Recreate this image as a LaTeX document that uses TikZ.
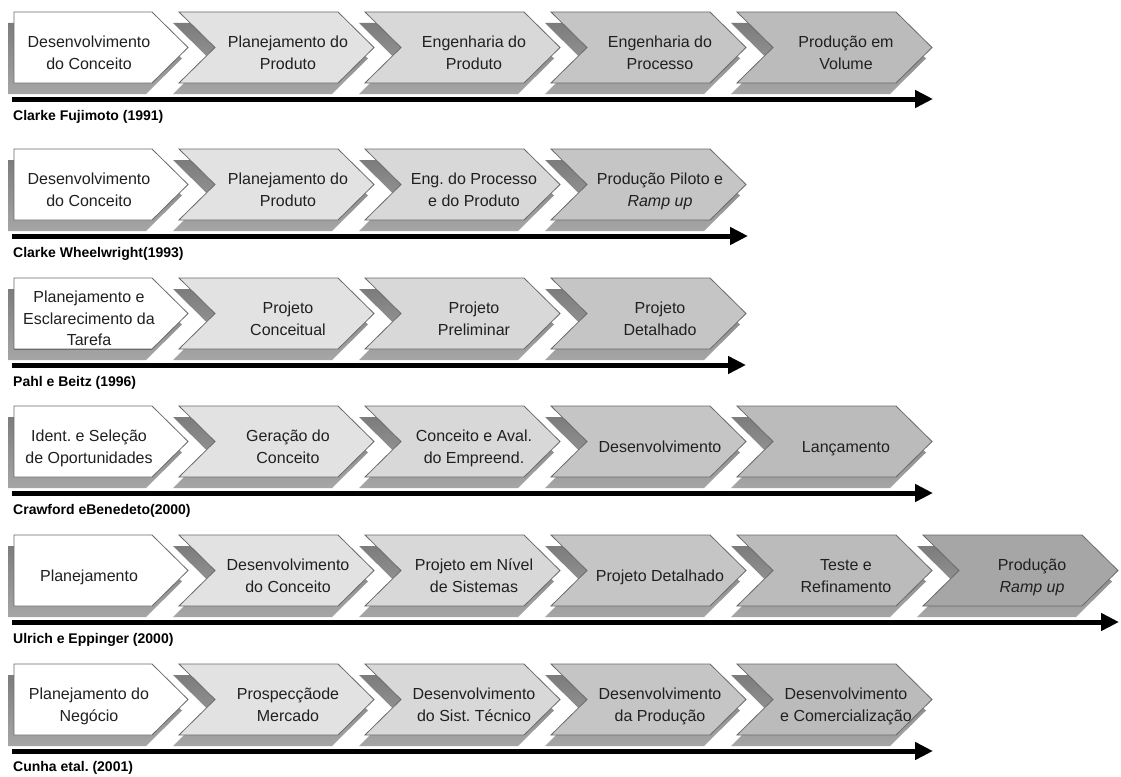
\documentclass[tikz,border=0pt]{standalone}
\usepackage{fontspec}
\setmainfont{Liberation Sans}
\frenchspacing
\usetikzlibrary{arrows.meta}
\definecolor{shtop}{HTML}{7C7C7C}
\definecolor{shbot}{HTML}{A6A6A6}
\definecolor{bdc}{HTML}{6A6A6A}
\definecolor{txtc}{HTML}{202020}
\definecolor{fa}{HTML}{FFFFFF}
\definecolor{fb}{HTML}{E2E2E2}
\definecolor{fc}{HTML}{D8D8D8}
\definecolor{fd}{HTML}{C5C5C5}
\definecolor{fe}{HTML}{BBBBBB}
\definecolor{ff}{HTML}{A6A6A6}
\newcommand{\brk}{\strut\\\strut}
\tikzset{
  txt/.style={font=\fontsize{16}{21.5}\selectfont, text=txtc, align=center, inner sep=0pt,
    execute at begin node=\strut, execute at end node=\strut},
  lbl/.style={font=\bfseries\fontsize{14}{16}\selectfont, anchor=west, inner sep=0pt, text=black},
  axis/.style={line width=5pt, -{Triangle[length=18pt,width=17pt]}},
  chevfill/.style={draw=bdc, line width=0.8pt},
  shadowfill/.style={top color=shtop, bottom color=shbot, draw=none},
}
% first chevron of a row: name, top, text
\newcommand{\chvfirst}[3]{%
  \shade[shadowfill] (8,{#2+11}) -- (146,{#2+11}) -- ++(36,35.5) -- ++(-36,35.5) -- (8,{#2+82}) -- cycle;
  \filldraw[chevfill, fill=fa] (14,#2) -- (152,#2) -- ++(36,35.5) -- ++(-36,35.5) -- (14,{#2+71}) -- cycle;
  \node[txt] (#1) at (89,{#2+42}) {#3};
}
% other chevrons: name, x0, top, fill, text
\newcommand{\chvnext}[5]{%
  \shade[shadowfill] ({#2-6},{#3+11}) -- ++(159,0) -- ++(36,35.5) -- ++(-36,35.5) -- ++(-159,0) -- ++(36,-35.5) -- cycle;
  \filldraw[chevfill, fill=#4] (#2,#3) -- ++(159,0) -- ++(36,35.5) -- ++(-36,35.5) -- ++(-159,0) -- ++(36,-35.5) -- cycle;
  \node[txt] (#1) at ({#2+109},{#3+42}) {#5};
}
\begin{document}
\begin{tikzpicture}[x=1pt,y=-1pt]
\useasboundingbox[fill=white] (0,0) rectangle (1121,776);

% Row 1
\chvfirst{r1a}{12}{Desenvolvimento\brk do Conceito}
\chvnext{r1b}{179}{12}{fb}{Planejamento do\brk Produto}
\chvnext{r1c}{365}{12}{fc}{Engenharia do\brk Produto}
\chvnext{r1d}{551}{12}{fd}{Engenharia do\brk Processo}
\chvnext{r1e}{737}{12}{fe}{Produção em\brk Volume}
\coordinate (s1) at (12,99);
\coordinate (e1) at (933,99);
\draw[axis] (s1) -- (e1);
\node[lbl] (l1) at (13,117) {Clarke Fujimoto (1991)};

% Row 2
\chvfirst{r2a}{149}{Desenvolvimento\brk do Conceito}
\chvnext{r2b}{179}{149}{fb}{Planejamento do\brk Produto}
\chvnext{r2c}{365}{149}{fc}{Eng. do Processo\brk e do Produto}
\chvnext{r2d}{551}{149}{fd}{Produção Piloto e\brk \textit{Ramp up}}
\coordinate (s2) at (12,236);
\coordinate (e2) at (748,236);
\draw[axis] (s2) -- (e2);
\node[lbl] (l2) at (13,254) {Clarke Wheelwright(1993)};

% Row 3
\chvfirst{r3a}{278}{Planejamento e\brk Esclarecimento da\brk Tarefa}
\draw[bdc, line width=0.8pt] (14,349) -- (152,349);
\chvnext{r3b}{179}{278}{fb}{Projeto\brk Conceitual}
\chvnext{r3c}{365}{278}{fc}{Projeto\brk Preliminar}
\chvnext{r3d}{551}{278}{fd}{Projeto\brk Detalhado}
\coordinate (s3) at (12,365);
\coordinate (e3) at (746,365);
\draw[axis] (s3) -- (e3);
\node[lbl] (l3) at (13,383) {Pahl e Beitz (1996)};

% Row 4
\chvfirst{r4a}{406}{Ident. e Seleção\brk de Oportunidades}
\chvnext{r4b}{179}{406}{fb}{Geração do\brk Conceito}
\chvnext{r4c}{365}{406}{fc}{Conceito e Aval.\brk do Empreend.}
\chvnext{r4d}{551}{406}{fd}{Desenvolvimento}
\chvnext{r4e}{737}{406}{fe}{Lançamento}
\coordinate (s4) at (12,493);
\coordinate (e4) at (933,493);
\draw[axis] (s4) -- (e4);
\node[lbl] (l4) at (13,511) {Crawford eBenedeto(2000)};

% Row 5
\chvfirst{r5a}{535}{Planejamento}
\chvnext{r5b}{179}{535}{fb}{Desenvolvimento\brk do Conceito}
\chvnext{r5c}{365}{535}{fc}{Projeto em Nível\brk de Sistemas}
\chvnext{r5d}{551}{535}{fd}{Projeto Detalhado}
\chvnext{r5e}{737}{535}{fe}{Teste e\brk Refinamento}
\chvnext{r5f}{923}{535}{ff}{Produção\brk \textit{Ramp up}}
\coordinate (s5) at (12,622);
\coordinate (e5) at (1119,622);
\draw[axis] (s5) -- (e5);
\node[lbl] (l5) at (13,640) {Ulrich e Eppinger (2000)};

% Row 6
\chvfirst{r6a}{664}{Planejamento do\brk Negócio}
\chvnext{r6b}{179}{664}{fb}{Prospecçãode\brk Mercado}
\chvnext{r6c}{365}{664}{fc}{Desenvolvimento\brk do Sist. Técnico}
\chvnext{r6d}{551}{664}{fd}{Desenvolvimento\brk da Produção}
\chvnext{r6e}{737}{664}{fe}{Desenvolvimento\brk e Comercialização}
\coordinate (s6) at (12,751);
\coordinate (e6) at (933,751);
\draw[axis] (s6) -- (e6);
\node[lbl] (l6) at (13,768) {Cunha etal. (2001)};
\end{tikzpicture}
\end{document}
